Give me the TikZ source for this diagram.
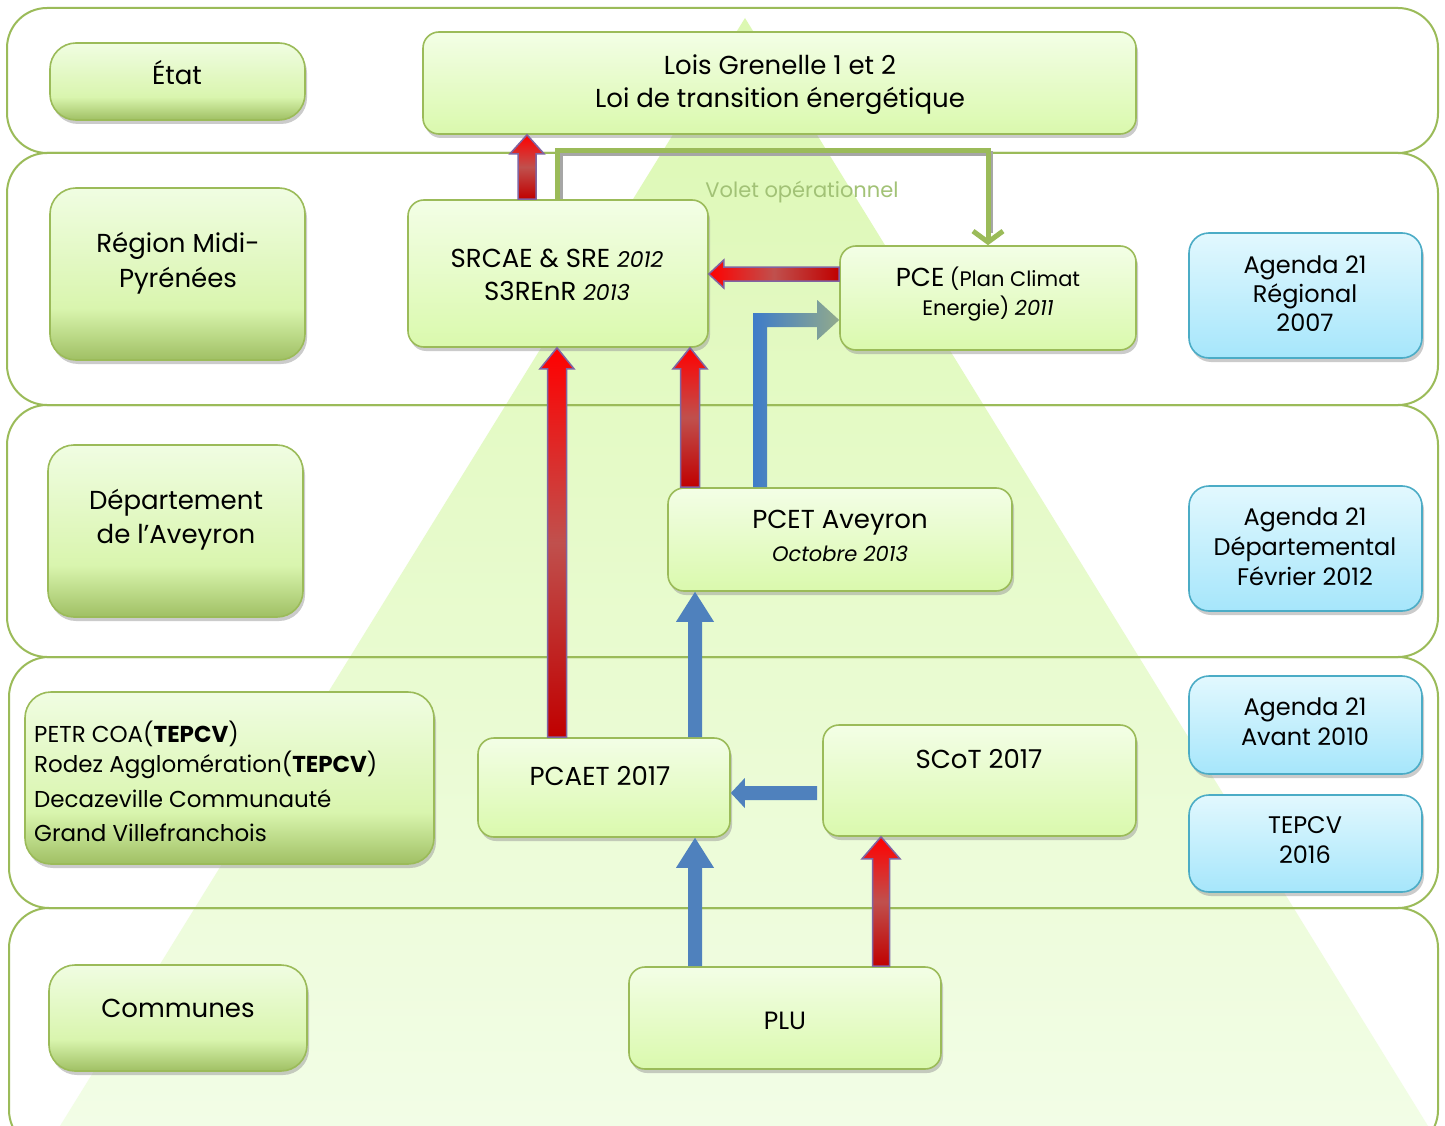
\documentclass[tikz,border=0pt]{standalone}
\usepackage{fontspec}
\setmainfont{Poppins}
\usetikzlibrary{shadows,calc,arrows.meta}

\definecolor{bandline}{HTML}{9BBB59}
\definecolor{boxline}{HTML}{9BBB59}
\definecolor{lgT}{HTML}{F0FDE2}
\definecolor{lgM}{HTML}{D9F5AE}
\definecolor{lgB}{HTML}{A0C064}
\definecolor{cgT}{HTML}{F3FEE6}
\definecolor{cgB}{HTML}{DAF9AD}
\definecolor{bgT}{HTML}{E2F8FE}
\definecolor{bgB}{HTML}{A6E6FB}
\definecolor{bline}{HTML}{4BACC6}
\definecolor{triT}{HTML}{DCF8B2}
\definecolor{triB}{HTML}{F2FDE6}
\definecolor{redT}{HTML}{FF0000}
\definecolor{redM}{HTML}{C0504D}
\definecolor{redB}{HTML}{C00000}
\definecolor{redline}{HTML}{8064A2}
\definecolor{blueA}{HTML}{4F81BD}
\definecolor{blueS}{HTML}{3D7CC9}
\definecolor{blueE}{HTML}{92AA8C}
\definecolor{greenA}{HTML}{9BBB59}
\definecolor{volet}{HTML}{A2C276}

\pgfdeclareverticalshading{leftshade}{100bp}{color(0bp)=(lgB); color(25bp)=(lgB); color(40bp)=(lgM); color(75bp)=(lgT); color(100bp)=(lgT)}

\tikzset{
  boxshadow/.style={drop shadow={shadow xshift=2pt,shadow yshift=-4pt,fill=black!40}},
  leftbox/.style={draw=boxline,line width=1.6pt,rounded corners=26pt,shading=leftshade,boxshadow,inner sep=0pt},
  centbox/.style={draw=boxline,line width=1.6pt,rounded corners=16pt,top color=cgT,bottom color=cgB,boxshadow,inner sep=0pt},
  bluebox/.style={draw=bline,line width=1.6pt,rounded corners=20pt,top color=bgT,bottom color=bgB,boxshadow,inner sep=0pt},
  band/.style={draw=bandline,line width=2pt,rounded corners=40pt},
  txt/.style={align=center,inner sep=0pt,font=\fontsize{26}{33}\selectfont},
  redup/.style={draw=redline,line width=1.5pt,top color=redT,bottom color=redB,middle color=redM},
  redleft/.style={draw=redline,line width=1.5pt,left color=redT,right color=redB,middle color=redM},
  blueup/.style={fill=blueA},
  blueelbow/.style={left color=blueS,right color=blueE},
  greenarrow/.style={draw=greenA,line width=5pt,-{Straight Barb[length=11pt,width=30pt]}},
  greenshadow/.style={draw=black!35,line width=5pt}
}

\newcommand\mkbox[6]{\node[#1,minimum width={(#5-#3)*1pt},minimum height={(#6-#4)*1pt}] (#2) at ({(#3+#5)/2},{(#4+#6)/2}) {};}
\newcommand\arrup[6]{\path[#1] let \p1=(#2), \p2=(#3) in (\x1-#4pt,\y1) -- (\x1-#4pt,\y2-#6pt) -- (\x1-#5pt,\y2-#6pt) -- (\x1,\y2) -- (\x1+#5pt,\y2-#6pt) -- (\x1+#4pt,\y2-#6pt) -- (\x1+#4pt,\y1) -- cycle;}
\newcommand\arrleft[6]{\path[#1] let \p1=(#2), \p2=(#3) in (\x1,\y1+#4pt) -- (\x2+#6pt,\y1+#4pt) -- (\x2+#6pt,\y1+#5pt) -- (\x2,\y1) -- (\x2+#6pt,\y1-#5pt) -- (\x2+#6pt,\y1-#4pt) -- (\x1,\y1-#4pt) -- cycle;}
\newcommand\arrelbow[6]{\path[#1] let \p1=(#2), \p2=(#3) in (\x1-#4pt,\y1) -- (\x1-#4pt,\y2+#4pt) -- (\x2-#6pt,\y2+#4pt) -- (\x2-#6pt,\y2+#5pt) -- (\x2,\y2) -- (\x2-#6pt,\y2-#5pt) -- (\x2-#6pt,\y2-#4pt) -- (\x1+#4pt,\y2-#4pt) -- (\x1+#4pt,\y1) -- cycle;}

\begin{document}
\begin{tikzpicture}[x=1pt,y=-1pt]
\useasboundingbox (0,0) rectangle (1445,1126);
\clip (0,0) rectangle (1445,1126);
\fill[white] (0,0) rectangle (1445,1126);

% triangle
\shade[top color=triT,bottom color=triB] (745,18) -- (1428,1126) -- (60,1126) -- cycle;

% bands
\draw[band] (7,8) rectangle (1438,153);
\draw[band] (7,153) rectangle (1438,405);
\draw[band] (7,405) rectangle (1438,657);
\draw[band] (9,657) rectangle (1438,908);
\draw[band] (9,908) rectangle (1438,1150);

% left column
\mkbox{leftbox}{etat}{50}{43}{305}{120}
\mkbox{leftbox}{region}{50}{188}{305}{360}
\mkbox{leftbox}{dept}{48}{445}{303}{617}
\mkbox{leftbox}{petr}{25}{692}{434}{864}
\mkbox{leftbox}{communes}{49}{965}{307}{1071}

% centre
\mkbox{centbox}{lois}{423}{32}{1136}{134}
\mkbox{centbox}{srcae}{408}{200}{708}{347}
\mkbox{centbox}{pce}{840}{246}{1136}{350}
\mkbox{centbox}{pcet}{668}{488}{1012}{591}
\mkbox{centbox}{pcaet}{478}{738}{730}{837}
\mkbox{centbox}{scot}{823}{725}{1136}{836}
\mkbox{centbox}{plu}{629}{967}{941}{1069}

% right column
\mkbox{bluebox}{agr}{1189}{233}{1422}{358}
\mkbox{bluebox}{agd}{1189}{486}{1422}{611}
\mkbox{bluebox}{aga}{1189}{676}{1422}{774}
\mkbox{bluebox}{tep}{1189}{795}{1422}{892}

% texts
\node[txt] at (177,73) {État};
\node[txt] at (780,85) {Lois Grenelle 1 et 2\\Loi de transition énergétique};
\node[txt,font=\fontsize{26}{35}\selectfont] at (178,263) {Région Midi-\\Pyrénées};
\node[txt,font=\fontsize{26}{33}\selectfont] at (557,275) {SRCAE \& SRE {\fontsize{22}{33}\selectfont\itshape 2012}\\S3REnR {\fontsize{22}{33}\selectfont\itshape 2013}};
\node[txt,font=\fontsize{21}{26}\selectfont,text=volet] at (802,192) {Volet opérationnel};
\node[txt,font=\fontsize{21}{29}\selectfont] at (988,294) {{\fontsize{26}{29}\selectfont PCE} (Plan Climat\\Energie) {\itshape 2011}};
\node[txt,font=\fontsize{24}{29}\selectfont] at (1305,294) {Agenda 21\\Régional\\2007};
\node[txt,font=\fontsize{26}{34}\selectfont] at (176,520) {Département\\de l'Aveyron};
\node[txt] at (840,536) {PCET Aveyron\\{\fontsize{21}{29}\selectfont\itshape Octobre 2013}};
\node[txt,font=\fontsize{24}{30}\selectfont] at (1305,547) {Agenda 21\\Départemental\\Février 2012};
\node[txt,align=left,anchor=west,font=\fontsize{23}{30}\selectfont] at (34,781) {PETR COA(\textbf{TEPCV})\\Rodez Agglomération(\textbf{TEPCV})\\[5pt]Decazeville Communauté\\[4pt]Grand Villefranchois};
\node[txt] at (600,776) {PCAET 2017};
\node[txt] at (979,759) {SCoT 2017};
\node[txt,font=\fontsize{24}{30}\selectfont] at (1305,722) {Agenda 21\\Avant 2010};
\node[txt,font=\fontsize{24}{30}\selectfont] at (1305,840) {TEPCV\\2016};
\node[txt] at (178,1008) {Communes};
\node[txt,font=\fontsize{25}{30}\selectfont] at (785,1021) {PLU};

% connectors
\arrup{redup}{$(srcae.north)+(-31,0)$}{lois.south}{9}{17}{19}
\draw[greenshadow] ($(srcae.north)+(2,0)$) -- ++(0,-46) -| ($(pce.north)+(2,-12)$);
\draw[greenarrow] ($(srcae.north)+(-1,0)$) -- ++(0,-49) -| (pce.north);
\arrleft{redleft}{$(pce.west)+(0,-24)$}{srcae.east}{7}{14}{15}
\arrelbow{blueelbow}{$(pcet.north)+(-80,0)$}{$(pce.west)+(0,22)$}{7}{20}{22}
\arrup{redup}{$(pcaet.north)+(-47,0)$}{srcae.south}{9.5}{17}{21}
\arrup{redup}{$(pcet.north)+(-150,0)$}{srcae.south}{9.5}{17}{21}
\arrup{blueup}{$(pcaet.north)+(91,0)$}{pcet.south}{7}{19}{30}
\arrleft{blueup}{$(scot.west)+(-5,12.5)$}{pcaet.east}{7}{15}{14}
\arrup{blueup}{$(plu.north)+(-90,0)$}{pcaet.south}{7}{19}{30}
\arrup{redup}{$(plu.north)+(96,0)$}{scot.south}{8.5}{19}{22}
\end{tikzpicture}
\end{document}
